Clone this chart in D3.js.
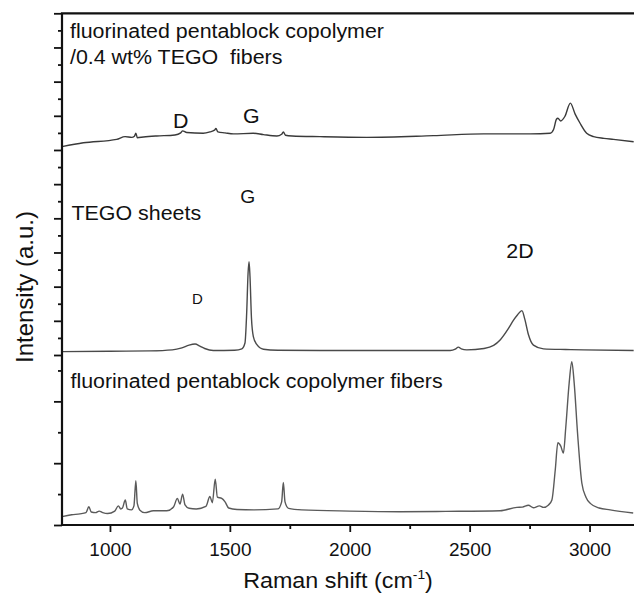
<!DOCTYPE html>
<html>
<head>
<meta charset="utf-8">
<script src="https://cdn.jsdelivr.net/npm/d3@7"></script>
<style>
  body { margin: 0; background: #fff; }
  text { font-family: "Liberation Sans", Arial, sans-serif; fill: #111; white-space: pre; }
</style>
</head>
<body>
<div id="wrapper"></div>
<script>
// spectra as [Raman shift (cm-1), intensity (a.u.)]
const tegoFiberSpectrum = [[800,6.10],[889,6.21],[1028,6.31],[1063,6.39],[1091,6.37],[1102,6.40],[1108,6.49],[1114,6.36],[1140,6.38],[1195,6.41],[1271,6.44],[1295,6.50],[1303,6.56],[1320,6.51],[1389,6.49],[1417,6.53],[1436,6.58],[1442,6.63],[1450,6.53],[1480,6.50],[1515,6.47],[1598,6.49],[1640,6.45],[1696,6.41],[1716,6.46],[1723,6.53],[1732,6.43],[1760,6.41],[1876,6.39],[2071,6.37],[2349,6.42],[2558,6.47],[2753,6.47],[2836,6.49],[2850,6.60],[2862,6.90],[2868,6.93],[2880,6.85],[2897,6.98],[2920,7.37],[2940,7.05],[2960,6.79],[2988,6.49],[3017,6.39],[3060,6.34],[3100,6.31],[3184,6.24]];

const tegoSheetSpectrum = [[800,0.10],[1000,0.11],[1167,0.12],[1260,0.15],[1300,0.21],[1330,0.29],[1355,0.32],[1375,0.26],[1395,0.19],[1431,0.13],[1520,0.14],[1550,0.18],[1563,0.35],[1570,1.20],[1576,2.40],[1580,2.73],[1584,2.30],[1590,1.10],[1598,0.54],[1612,0.31],[1640,0.17],[1700,0.14],[1876,0.13],[2200,0.13],[2419,0.13],[2440,0.17],[2453,0.23],[2465,0.18],[2488,0.15],[2560,0.19],[2600,0.28],[2627,0.44],[2662,0.78],[2683,1.02],[2700,1.18],[2718,1.30],[2730,1.05],[2745,0.60],[2766,0.29],[2808,0.18],[2900,0.16],[2975,0.15],[3184,0.13]];

const polymerFiberSpectrum = [[800,0.27],[840,0.33],[875,0.36],[900,0.40],[912,0.59],[922,0.42],[940,0.40],[955,0.45],[970,0.40],[990,0.37],[1020,0.45],[1035,0.62],[1045,0.52],[1052,0.55],[1064,0.81],[1072,0.52],[1090,0.49],[1100,0.62],[1108,1.43],[1114,0.70],[1125,0.48],[1145,0.40],[1181,0.46],[1237,0.46],[1265,0.58],[1281,0.86],[1292,0.68],[1303,1.00],[1313,0.65],[1330,0.54],[1360,0.52],[1400,0.60],[1417,0.92],[1427,0.72],[1439,1.48],[1448,0.90],[1466,0.86],[1480,0.75],[1495,0.55],[1530,0.50],[1600,0.49],[1700,0.52],[1716,0.75],[1723,1.38],[1730,0.75],[1745,0.54],[1800,0.49],[2000,0.45],[2210,0.43],[2400,0.44],[2627,0.46],[2697,0.57],[2720,0.58],[2745,0.64],[2766,0.56],[2791,0.62],[2808,0.57],[2829,0.65],[2843,0.81],[2857,1.78],[2868,2.66],[2880,2.55],[2891,2.33],[2901,3.17],[2915,4.59],[2926,5.28],[2936,4.59],[2950,2.97],[2968,1.35],[2985,0.90],[3003,0.70],[3040,0.55],[3086,0.49],[3182,0.39]];

const xMajorTicks = [1000, 1500, 2000, 2500, 3000];
const xMinorTicks = [1250, 1750, 2250, 2750];
const topMajorTicks = [0,1,2,3,4,5,6,7,8,9,10];
const topMinorTicks = [0.5,1.5,2.5,3.5,4.5,5.5,6.5,7.5,8.5,9.5];
const bottomMajorTicks = [0, 2, 4];
const bottomMinorTicks = [1, 3, 5];

// peak labels: [text, shift, intensity, size]
const peakLabels = [
	["D", 1295, 6.65, 20],
	["G", 1590, 6.80, 20],
	["G", 1575, 4.45, 18],
	["D", 1365, 1.5, 14],
	["2D", 2710, 2.83, 20]
];

const width = 634, height = 593;

const svg = d3.select("#wrapper").append("svg")
	.attr("width", width)
	.attr("height", height);

const xScale = d3.scaleLinear().domain([800, 3200]).range([62, 637.5]);
const yTop = d3.scaleLinear().domain([0, 10]).range([355, 13.3]);
const yBottom = d3.scaleLinear().domain([0, 5.5]).range([525, 355]);

function drawLine(data, yScale, color) {
	const line = d3.line()
		.x(d => xScale(d[0]))
		.y(d => yScale(d[1]))
		.curve(d3.curveMonotoneX);
	svg.append("path")
		.attr("d", line(data))
		.attr("fill", "none")
		.attr("stroke", color)
		.attr("stroke-width", 1.4)
		.attr("stroke-linejoin", "round");
}

drawLine(tegoFiberSpectrum, yTop, "#3a3a3a");
drawLine(tegoSheetSpectrum, yTop, "#4a4a4a");
drawLine(polymerFiberSpectrum, yBottom, "#5a5a5a");

// axes
function tickAxis(axis, transform) {
	const g = svg.append("g").attr("transform", transform).call(axis);
	g.select(".domain").remove();
	g.selectAll(".tick line").attr("stroke", "#111").attr("stroke-width", 1.8);
	return g;
}

const xAxisG = tickAxis(d3.axisBottom(xScale).tickValues(xMajorTicks).tickSize(7).tickPadding(11).tickFormat(d3.format("d")),
	"translate(0,525)");
xAxisG.selectAll("text").attr("font-size", 19).attr("fill", "#111")
	.style("font-family", "'Liberation Sans', Arial, sans-serif");
tickAxis(d3.axisBottom(xScale).tickValues(xMinorTicks).tickSize(4).tickFormat(""), "translate(0,525)");

tickAxis(d3.axisLeft(yTop).tickValues(topMajorTicks).tickSize(8).tickFormat(""), "translate(62,0)");
tickAxis(d3.axisLeft(yTop).tickValues(topMinorTicks).tickSize(4).tickFormat(""), "translate(62,0)");
tickAxis(d3.axisLeft(yBottom).tickValues(bottomMajorTicks).tickSize(8).tickFormat(""), "translate(62,0)");
tickAxis(d3.axisLeft(yBottom).tickValues(bottomMinorTicks).tickSize(4).tickFormat(""), "translate(62,0)");

// frame
svg.append("path")
	.attr("d", `M${xScale(3200)},${yTop(10)}H62V525H${xScale(3200)}`)
	.attr("fill", "none")
	.attr("stroke", "#111")
	.attr("stroke-width", 2.2);

// sample labels
function label(text, x, y, size) {
	return svg.append("text")
		.attr("transform", `translate(${x},${y}) scale(1.07,1)`)
		.attr("font-size", size)
		.text(text);
}
label("fluorinated pentablock copolymer", 70, 37.7, 20);
label("/0.4 wt% TEGO  fibers", 70, 64.3, 20);
label("TEGO sheets", 71.5, 220, 20);
label("fluorinated pentablock copolymer fibers", 70.5, 388, 20);

peakLabels.forEach(p => {
	svg.append("text")
		.attr("transform", `translate(${xScale(p[1])},${yTop(p[2])}) scale(1.07,1)`)
		.attr("text-anchor", "middle")
		.attr("font-size", p[3])
		.text(p[0]);
});

// axis titles
const xTitle = svg.append("text")
	.attr("transform", "translate(338,588) scale(1.06,1)")
	.attr("text-anchor", "middle")
	.attr("font-size", 22);
xTitle.append("tspan").text("Raman shift (cm");
xTitle.append("tspan").attr("font-size", 13).attr("dy", -9).text("-1");
xTitle.append("tspan").attr("dy", 9).text(")");

svg.append("text")
	.attr("transform", "translate(33,287) rotate(-90)")
	.attr("text-anchor", "middle")
	.attr("font-size", 24)
	.text("Intensity (a.u.)");
</script>
</body>
</html>
